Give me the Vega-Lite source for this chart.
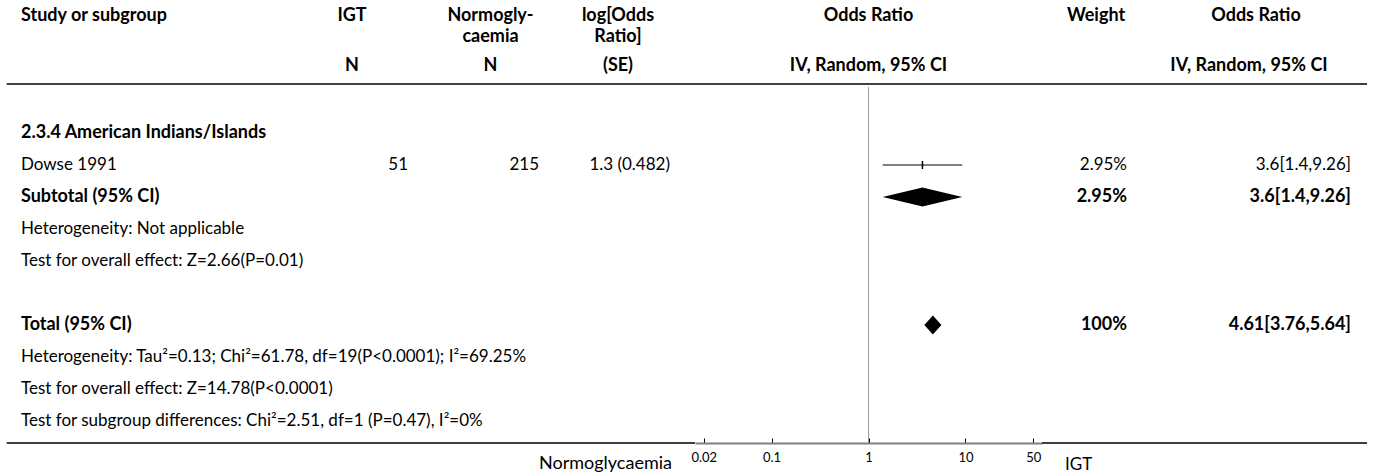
{
"$schema": "https://vega.github.io/schema/vega-lite/v6.json",
"background": "white",
"padding": 0,
"spacing": 0,
"bounds": "flush",
"resolve": {"scale": {"x": "independent", "y": "independent"}},
"datasets": {
 "rows": [
  {"row": 0, "type": "group", "study": "2.3.4 American Indians/Islands"},
  {"row": 1, "type": "study", "study": "Dowse 1991", "igt": "51", "normo": "215", "logor": "1.3 (0.482)", "weight": "2.95%", "ci": "3.6[1.4,9.26]", "or": 3.6, "lo": 1.4, "hi": 9.26},
  {"row": 2, "type": "subtotal", "study": "Subtotal (95% CI)", "weight": "2.95%", "ci": "3.6[1.4,9.26]", "or": 3.6, "lo": 1.4, "hi": 9.26},
  {"row": 3, "type": "note", "study": "Heterogeneity: Not applicable"},
  {"row": 4, "type": "note", "study": "Test for overall effect: Z=2.66(P=0.01)"},
  {"row": 6, "type": "total", "study": "Total (95% CI)", "weight": "100%", "ci": "4.61[3.76,5.64]", "or": 4.61, "lo": 3.76, "hi": 5.64},
  {"row": 7, "type": "note", "study": "Heterogeneity: Tau²=0.13; Chi²=61.78, df=19(P<0.0001); I²=69.25%"},
  {"row": 8, "type": "note", "study": "Test for overall effect: Z=14.78(P<0.0001)"},
  {"row": 9, "type": "note", "study": "Test for subgroup differences: Chi²=2.51, df=1 (P=0.47), I²=0%"}
 ]
},
"config": {
 "view": {"stroke": null},
 "text": {"font": "Lato", "fontSize": 17, "color": "black", "baseline": "middle"},
 "rule": {"color": "black"},
 "axis": {"labelFont": "Lato", "labelFontSize": 13, "labelColor": "black", "grid": false}
},
"hconcat": [
 {
  "width": 310, "height": 443,
  "layer": [
   {"data": {"name": "rows"}, "transform": [{"filter": "datum.type==='study' || datum.type==='note'"}],
    "mark": {"type": "text", "align": "left", "dx": 21},
    "encoding": {"x": {"datum": 0, "type": "quantitative", "scale": {"domain": [0, 1], "nice": false, "zero": false}, "axis": null},
     "y": {"field": "row", "type": "quantitative", "scale": {"domain": [0, 9], "range": [133, 421], "nice": false, "zero": false}, "axis": null},
     "text": {"field": "study"}}},
   {"data": {"name": "rows"}, "transform": [{"filter": "datum.type==='group' || datum.type==='subtotal' || datum.type==='total'"}],
    "mark": {"type": "text", "align": "left", "dx": 21, "fontWeight": "bold", "fontSize": 18},
    "encoding": {"x": {"datum": 0, "type": "quantitative"}, "y": {"field": "row", "type": "quantitative"}, "text": {"field": "study"}}},
   {"data": {"values": [{}]}, "mark": {"type": "text", "align": "left", "dx": 21, "fontWeight": "bold", "fontSize": 18},
    "encoding": {"x": {"datum": 0, "type": "quantitative"}, "y": {"datum": -3.656}, "text": {"value": "Study or subgroup"}}},
   {"data": {"values": [{}]}, "mark": {"type": "rule", "strokeWidth": 1.5}, "encoding": {"x": {"datum": 0.0216, "type": "quantitative"}, "x2": {"datum": 1}, "y": {"datum": -1.531}}},
   {"data": {"values": [{}]}, "mark": {"type": "rule", "strokeWidth": 1.5}, "encoding": {"x": {"datum": 0.0216, "type": "quantitative"}, "x2": {"datum": 1}, "y": {"datum": 9.6875}}}
  ]
 },
 {
  "width": 103, "height": 443,
  "layer": [
   {"data": {"name": "rows"}, "transform": [{"filter": "datum.type==='study'"}],
    "mark": {"type": "text", "align": "right", "dx": -5},
    "encoding": {"x": {"datum": 1, "type": "quantitative", "scale": {"domain": [0, 1], "nice": false, "zero": false}, "axis": null},
     "y": {"field": "row", "type": "quantitative", "scale": {"domain": [0, 9], "range": [133, 421], "nice": false, "zero": false}, "axis": null},
     "text": {"field": "igt"}}},
   {"data": {"values": [{}]}, "mark": {"type": "text", "align": "center", "fontWeight": "bold", "fontSize": 18, "dx": -9.5},
    "encoding": {"x": {"datum": 0.5, "type": "quantitative"}, "y": {"datum": -3.656}, "text": {"value": "IGT"}}},
   {"data": {"values": [{}]}, "mark": {"type": "text", "align": "center", "fontWeight": "bold", "fontSize": 18, "dx": -9.5},
    "encoding": {"x": {"datum": 0.5, "type": "quantitative"}, "y": {"datum": -2.094}, "text": {"value": "N"}}},
   {"data": {"values": [{}]}, "mark": {"type": "rule", "strokeWidth": 1.5}, "encoding": {"y": {"datum": -1.531}}},
   {"data": {"values": [{}]}, "mark": {"type": "rule", "strokeWidth": 1.5}, "encoding": {"y": {"datum": 9.6875}}}
  ]
 },
 {
  "width": 131, "height": 443,
  "layer": [
   {"data": {"name": "rows"}, "transform": [{"filter": "datum.type==='study'"}],
    "mark": {"type": "text", "align": "right", "dx": -5},
    "encoding": {"x": {"datum": 1, "type": "quantitative", "scale": {"domain": [0, 1], "nice": false, "zero": false}, "axis": null},
     "y": {"field": "row", "type": "quantitative", "scale": {"domain": [0, 9], "range": [133, 421], "nice": false, "zero": false}, "axis": null},
     "text": {"field": "normo"}}},
   {"data": {"values": [{}]}, "mark": {"type": "text", "align": "center", "fontWeight": "bold", "fontSize": 18, "dx": 12},
    "encoding": {"x": {"datum": 0.5, "type": "quantitative"}, "y": {"datum": -3.656}, "text": {"value": "Normogly-"}}},
   {"data": {"values": [{}]}, "mark": {"type": "text", "align": "center", "fontWeight": "bold", "fontSize": 18, "dx": 12},
    "encoding": {"x": {"datum": 0.5, "type": "quantitative"}, "y": {"datum": -3.0}, "text": {"value": "caemia"}}},
   {"data": {"values": [{}]}, "mark": {"type": "text", "align": "center", "fontWeight": "bold", "fontSize": 18, "dx": 12},
    "encoding": {"x": {"datum": 0.5, "type": "quantitative"}, "y": {"datum": -2.094}, "text": {"value": "N"}}},
   {"data": {"values": [{}]}, "mark": {"type": "rule", "strokeWidth": 1.5}, "encoding": {"y": {"datum": -1.531}}},
   {"data": {"values": [{}]}, "mark": {"type": "rule", "strokeWidth": 1.5}, "encoding": {"y": {"datum": 9.6875}}}
  ]
 },
 {
  "width": 151, "height": 443,
  "layer": [
   {"data": {"name": "rows"}, "transform": [{"filter": "datum.type==='study'"}],
    "mark": {"type": "text", "align": "right", "dx": -25},
    "encoding": {"x": {"datum": 1, "type": "quantitative", "scale": {"domain": [0, 1], "nice": false, "zero": false}, "axis": null},
     "y": {"field": "row", "type": "quantitative", "scale": {"domain": [0, 9], "range": [133, 421], "nice": false, "zero": false}, "axis": null},
     "text": {"field": "logor"}}},
   {"data": {"values": [{}]}, "mark": {"type": "text", "align": "center", "fontWeight": "bold", "fontSize": 18, "dx": -1.5},
    "encoding": {"x": {"datum": 0.5, "type": "quantitative"}, "y": {"datum": -3.656}, "text": {"value": "log[Odds"}}},
   {"data": {"values": [{}]}, "mark": {"type": "text", "align": "center", "fontWeight": "bold", "fontSize": 18, "dx": -1.5},
    "encoding": {"x": {"datum": 0.5, "type": "quantitative"}, "y": {"datum": -3.0}, "text": {"value": "Ratio]"}}},
   {"data": {"values": [{}]}, "mark": {"type": "text", "align": "center", "fontWeight": "bold", "fontSize": 18, "dx": -1.5},
    "encoding": {"x": {"datum": 0.5, "type": "quantitative"}, "y": {"datum": -2.094}, "text": {"value": "(SE)"}}},
   {"data": {"values": [{}]}, "mark": {"type": "rule", "strokeWidth": 1.5}, "encoding": {"y": {"datum": -1.531}}},
   {"data": {"values": [{}]}, "mark": {"type": "rule", "strokeWidth": 1.5}, "encoding": {"y": {"datum": 9.6875}}}
  ]
 },
 {
  "width": 347, "height": 443,
  "layer": [
   {"data": {"values": [{}]}, "mark": {"type": "rule", "color": "#999999", "strokeWidth": 1},
    "encoding": {"x": {"datum": 1, "type": "quantitative", "scale": {"type": "log", "domain": [0.01626, 61.5], "nice": false},
       "axis": {"values": [0.02, 0.1, 1, 10, 50], "format": "~g", "title": null, "tickSize": -5, "tickColor": "black", "labelPadding": 13, "domainColor": "#808080", "domainWidth": 2, "labelFlush": true, "labelOverlap": false}},
     "y": {"datum": -1.4375, "type": "quantitative", "scale": {"domain": [0, 9], "range": [133, 421], "nice": false, "zero": false}, "axis": null},
     "y2": {"datum": 9.6875}}},
   {"data": {"name": "rows"}, "transform": [{"filter": "datum.type==='study'"}],
    "mark": {"type": "rule", "strokeWidth": 1},
    "encoding": {"x": {"field": "lo", "type": "quantitative"}, "x2": {"field": "hi"}, "y": {"field": "row", "type": "quantitative"}}},
   {"data": {"name": "rows"}, "transform": [{"filter": "datum.type==='study'"}],
    "mark": {"type": "tick", "orient": "vertical", "size": 8, "thickness": 1.5, "color": "black", "opacity": 1},
    "encoding": {"x": {"field": "or", "type": "quantitative"}, "y": {"field": "row", "type": "quantitative"}}},
   {"data": {"name": "rows"}, "transform": [{"filter": "datum.type==='subtotal'"}],
    "mark": {"type": "point", "filled": true, "opacity": 1, "color": "black", "strokeWidth": 0, "shape": "M-1,0L0,-0.2387L1,0L0,0.2387Z", "size": 6336},
    "encoding": {"x": {"field": "or", "type": "quantitative"}, "y": {"field": "row", "type": "quantitative"}}},
   {"data": {"name": "rows"}, "transform": [{"filter": "datum.type==='total'"}],
    "mark": {"type": "point", "filled": true, "opacity": 1, "color": "black", "strokeWidth": 0, "shape": "M-1,0L0,-1.111L1,0L0,1.111Z", "size": 292},
    "encoding": {"x": {"field": "or", "type": "quantitative"}, "y": {"field": "row", "type": "quantitative"}}},
   {"data": {"values": [{}]}, "mark": {"type": "text", "align": "center", "fontWeight": "bold", "fontSize": 18},
    "encoding": {"x": {"datum": 1, "type": "quantitative"}, "y": {"datum": -3.656}, "text": {"value": "Odds Ratio"}}},
   {"data": {"values": [{}]}, "mark": {"type": "text", "align": "center", "fontWeight": "bold", "fontSize": 18},
    "encoding": {"x": {"datum": 1, "type": "quantitative"}, "y": {"datum": -2.094}, "text": {"value": "IV, Random, 95% CI"}}},
   {"data": {"values": [{}]}, "mark": {"type": "text", "align": "right", "dx": -23, "fontSize": 18},
    "encoding": {"x": {"datum": 0.01626, "type": "quantitative"}, "y": {"datum": 10.34}, "text": {"value": "Normoglycaemia"}}},
   {"data": {"values": [{}]}, "mark": {"type": "text", "align": "left", "dx": 23},
    "encoding": {"x": {"datum": 61.5, "type": "quantitative"}, "y": {"datum": 10.36}, "text": {"value": "IGT"}}},
   {"data": {"values": [{}]}, "mark": {"type": "rule", "strokeWidth": 1.5}, "encoding": {"y": {"datum": -1.531}}}
  ]
 },
 {
  "width": 90, "height": 443,
  "layer": [
   {"data": {"name": "rows"}, "transform": [{"filter": "datum.type==='study'"}],
    "mark": {"type": "text", "align": "right", "dx": -5},
    "encoding": {"x": {"datum": 1, "type": "quantitative", "scale": {"domain": [0, 1], "nice": false, "zero": false}, "axis": null},
     "y": {"field": "row", "type": "quantitative", "scale": {"domain": [0, 9], "range": [133, 421], "nice": false, "zero": false}, "axis": null},
     "text": {"field": "weight"}}},
   {"data": {"name": "rows"}, "transform": [{"filter": "datum.type==='subtotal' || datum.type==='total'"}],
    "mark": {"type": "text", "align": "right", "dx": -5, "fontWeight": "bold", "fontSize": 18},
    "encoding": {"x": {"datum": 1, "type": "quantitative"}, "y": {"field": "row", "type": "quantitative"}, "text": {"field": "weight"}}},
   {"data": {"values": [{}]}, "mark": {"type": "text", "align": "center", "dx": 9, "fontWeight": "bold", "fontSize": 18},
    "encoding": {"x": {"datum": 0.5, "type": "quantitative"}, "y": {"datum": -3.656}, "text": {"value": "Weight"}}},
   {"data": {"values": [{}]}, "mark": {"type": "rule", "strokeWidth": 1.5}, "encoding": {"y": {"datum": -1.531}}},
   {"data": {"values": [{}]}, "mark": {"type": "rule", "strokeWidth": 1.5}, "encoding": {"y": {"datum": 9.6875}}}
  ]
 },
 {
  "width": 243, "height": 443,
  "layer": [
   {"data": {"name": "rows"}, "transform": [{"filter": "datum.type==='study'"}],
    "mark": {"type": "text", "align": "right", "dx": -24},
    "encoding": {"x": {"datum": 1, "type": "quantitative", "scale": {"domain": [0, 1], "nice": false, "zero": false}, "axis": null},
     "y": {"field": "row", "type": "quantitative", "scale": {"domain": [0, 9], "range": [133, 421], "nice": false, "zero": false}, "axis": null},
     "text": {"field": "ci"}}},
   {"data": {"name": "rows"}, "transform": [{"filter": "datum.type==='subtotal' || datum.type==='total'"}],
    "mark": {"type": "text", "align": "right", "dx": -24, "fontWeight": "bold", "fontSize": 18},
    "encoding": {"x": {"datum": 1, "type": "quantitative"}, "y": {"field": "row", "type": "quantitative"}, "text": {"field": "ci"}}},
   {"data": {"values": [{}]}, "mark": {"type": "text", "align": "center", "fontWeight": "bold", "fontSize": 18, "dx": 2.5},
    "encoding": {"x": {"datum": 0.5, "type": "quantitative"}, "y": {"datum": -3.656}, "text": {"value": "Odds Ratio"}}},
   {"data": {"values": [{}]}, "mark": {"type": "text", "align": "center", "fontWeight": "bold", "fontSize": 18, "dx": -4.5},
    "encoding": {"x": {"datum": 0.5, "type": "quantitative"}, "y": {"datum": -2.094}, "text": {"value": "IV, Random, 95% CI"}}},
   {"data": {"values": [{}]}, "mark": {"type": "rule", "strokeWidth": 1.5}, "encoding": {"x": {"datum": 0, "type": "quantitative"}, "x2": {"datum": 0.967}, "y": {"datum": -1.531}}},
   {"data": {"values": [{}]}, "mark": {"type": "rule", "strokeWidth": 1.5}, "encoding": {"x": {"datum": 0, "type": "quantitative"}, "x2": {"datum": 0.967}, "y": {"datum": 9.6875}}}
  ]
 }
]
}
